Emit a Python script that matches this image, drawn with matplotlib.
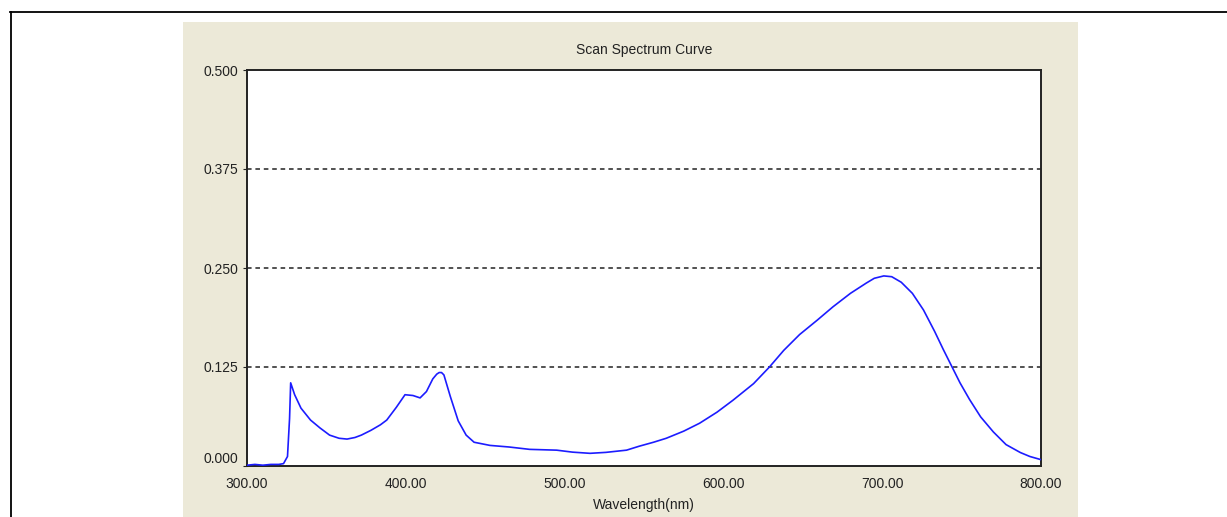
import matplotlib.pyplot as plt
from matplotlib.lines import Line2D
from matplotlib.patches import Rectangle

# Absorbance scan, 300-800 nm
wavelength = [300, 305, 310, 315, 320, 323, 325.5, 326.8, 327.5, 330, 334, 340,
              346, 352, 358, 363, 368, 372, 378, 384, 388, 394, 399.5, 404.5,
              409, 413, 417, 419.5, 421, 422.5, 424, 428, 433, 438, 443, 453, 465,
              478, 495, 505, 516, 526, 539, 547, 556, 564, 575, 585, 596, 606, 619,
              629, 638, 648, 659, 669, 680, 690, 695, 701, 706, 712, 719, 726, 733,
              738.5, 744, 749, 755, 762, 770, 778, 787, 793, 800]
absorbance = [0.001, 0.002, 0.001, 0.002, 0.002, 0.003, 0.012, 0.060, 0.105, 0.090,
              0.073, 0.058, 0.048, 0.039, 0.035, 0.034, 0.036, 0.039, 0.045, 0.052,
              0.058, 0.074, 0.090, 0.089, 0.086, 0.094, 0.110, 0.116, 0.118, 0.118,
              0.115, 0.088, 0.057, 0.039, 0.030, 0.026, 0.024, 0.021, 0.020, 0.0175,
              0.016, 0.0172, 0.020, 0.025, 0.030, 0.035, 0.044, 0.054, 0.068, 0.083,
              0.104, 0.125, 0.146, 0.166, 0.184, 0.201, 0.218, 0.231, 0.237, 0.240,
              0.239, 0.232, 0.218, 0.197, 0.170, 0.147, 0.125, 0.105, 0.084, 0.062,
              0.043, 0.027, 0.017, 0.012, 0.008]

x_ticks = [300, 400, 500, 600, 700, 800]
y_ticks = [0.0, 0.125, 0.25, 0.375, 0.5]

plt.rcParams['font.family'] = ['Liberation Sans', 'DejaVu Sans']
font_size = 10
W, H = 1227, 517

fig = plt.figure(figsize=(W / 100, H / 100), dpi=100)
fig.patch.set_facecolor('white')

# beige panel behind the chart
fig.patches.append(Rectangle((183 / W, 0), (1078 - 183) / W, (517 - 22) / H,
                             transform=fig.transFigure, facecolor='#ECE9D8',
                             edgecolor='none', zorder=0))
# outer frame lines (top and left)
fig.lines.append(Line2D([10 / W, 1], [1 - 12 / H, 1 - 12 / H], transform=fig.transFigure,
                        color='black', linewidth=1.3))
fig.lines.append(Line2D([10.5 / W, 10.5 / W], [0, 1 - 12 / H], transform=fig.transFigure,
                        color='black', linewidth=1.3))

ax = fig.add_axes([247 / W, 1 - 466 / H, (1041 - 247) / W, (466 - 70) / H])
ax.set_zorder(2)
ax.set_facecolor('white')

ax.plot(wavelength, absorbance, color='#1c1cff', linewidth=1.2, zorder=3)

# dashed horizontal guides
for yv in y_ticks[1:-1]:
    ax.axhline(yv, color='#222222', linewidth=1.1, linestyle=(0, (3, 2.5)), zorder=2)

ax.set_xlim(300, 800)
ax.set_ylim(0, 0.5)
ax.set_xticks(x_ticks)
ax.set_xticklabels([f'{v:.2f}' for v in x_ticks], fontsize=font_size, color='#222222')
ax.set_yticks(y_ticks)
ax.set_yticklabels([f'{v:.3f}' for v in y_ticks], fontsize=font_size, color='#222222')
ax.tick_params(axis='x', length=0, pad=8)
ax.tick_params(axis='y', length=3, pad=3, color='#222222')
ax.get_yticklabels()[0].set_va('bottom')

for s in ax.spines.values():
    s.set_color('#222222')
    s.set_linewidth(1.4)

fig.text(644 / W, 1 - 50 / H, 'Scan Spectrum Curve', ha='center', va='center',
         fontsize=font_size, color='#222222', zorder=3)
fig.text(644 / W, 1 - 505 / H, 'Wavelength(nm)', ha='center', va='center',
         fontsize=font_size, color='#222222', zorder=3)

fig.savefig('out.png', dpi=100)
